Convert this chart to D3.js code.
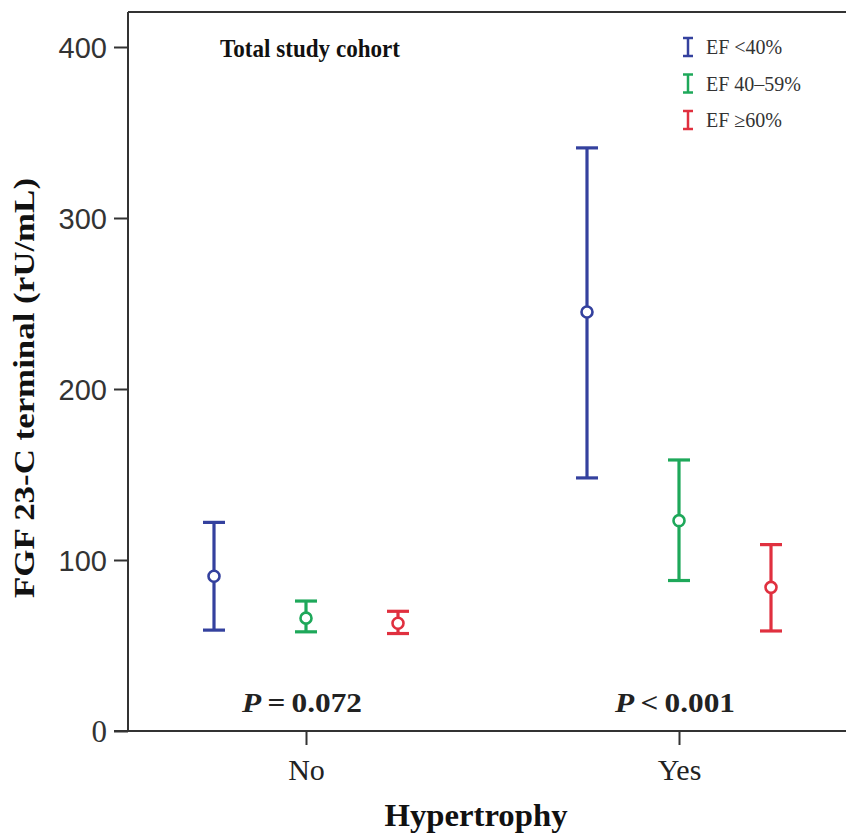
<!DOCTYPE html>
<html><head><meta charset="utf-8">
<script src="https://cdn.jsdelivr.net/npm/d3@7"></script>
<style>body{margin:0;background:#fff}</style>
</head><body><svg id="c" width="846" height="834"></svg>
<script>
const groups = ["No", "Yes"];
const series = ["EF <40%", "EF 40\u201359%", "EF \u226560%"];
const colors = ["#34419e", "#1ea85a", "#e0303f"];
const means = [[90.5, 66, 63], [245, 123, 84]];
const lower = [[59, 58, 57], [148, 88, 58.5]];
const upper = [[122, 76, 70], [341, 158.5, 109]];
const pLabels = [["=", "0.072"], ["<", "0.001"]];
const yTicks = [0, 100, 200, 300, 400];

const serif = "Liberation Serif, Times New Roman, serif";
const sans = "Liberation Sans, Arial, sans-serif";
const svg = d3.select("#c");
const L = 128, T = 12, R = 846, B = 731;
const y = d3.scaleLinear().domain([0, 400]).range([B, 47]);
const x = d3.scalePoint().domain(groups).range([306, 679]);
const xs = d3.scaleBand().domain(series).range([-138, 138]).paddingInner(0);

// frame
svg.append("line").attr("x1", L).attr("x2", R).attr("y1", T).attr("y2", T).attr("stroke", "#333").attr("stroke-width", 2);

const yAxis = svg.append("g").attr("transform", `translate(${L},0)`)
  .call(d3.axisLeft(y).tickValues(yTicks).tickSize(14).tickPadding(7));
yAxis.select(".domain").attr("stroke", "#333").attr("stroke-width", 2).attr("d", `M0,${T}V${B}`);
yAxis.selectAll(".tick line").attr("stroke", "#333").attr("stroke-width", 2);
yAxis.selectAll(".tick text").attr("font-family", sans).attr("font-size", 29).attr("fill", "#333").attr("dy", "0.35em");
yAxis.selectAll(".tick text").filter(d => d === 0).attr("font-family", serif).attr("font-size", 31);

const xAxis = svg.append("g").attr("transform", `translate(0,${B})`)
  .call(d3.axisBottom(x).tickSize(14).tickPadding(0));
xAxis.select(".domain").attr("stroke", "#333").attr("stroke-width", 2).attr("d", `M${L - 14},0H${R}`);
xAxis.selectAll(".tick line").attr("stroke", "#333").attr("stroke-width", 2);
xAxis.selectAll(".tick text").attr("font-family", serif).attr("font-size", 30).attr("fill", "#222")
  .attr("dy", null).attr("y", 49);

// error bars
groups.forEach((g, gi) => {
  series.forEach((s, si) => {
    const cx = x(g) + xs(s) + xs.bandwidth() / 2;
    const c = colors[si];
    const gg = svg.append("g").attr("stroke", c).attr("stroke-width", 3.2).attr("fill", "none");
    gg.append("line").attr("x1", cx).attr("x2", cx).attr("y1", y(lower[gi][si])).attr("y2", y(upper[gi][si]));
    gg.append("line").attr("x1", cx - 11).attr("x2", cx + 11).attr("y1", y(lower[gi][si])).attr("y2", y(lower[gi][si]));
    gg.append("line").attr("x1", cx - 11).attr("x2", cx + 11).attr("y1", y(upper[gi][si])).attr("y2", y(upper[gi][si]));
    gg.append("circle").attr("cx", cx).attr("cy", y(means[gi][si])).attr("r", 5.5).attr("fill", "#fff").attr("stroke-width", 2.6);
  });
  const t = svg.append("text").attr("x", x(g) - 4).attr("y", 712).attr("text-anchor", "middle")
    .attr("font-family", serif).attr("font-weight", "bold").attr("font-size", 28).attr("fill", "#222")
    .attr("textLength", 120).attr("lengthAdjust", "spacingAndGlyphs");
  t.append("tspan").attr("font-style", "italic").text("P");
  t.append("tspan").text("\u2009" + pLabels[gi][0] + "\u2009" + pLabels[gi][1]);
});

// title
svg.append("text").attr("x", 220).attr("y", 57)
  .attr("font-family", serif).attr("font-weight", "bold").attr("font-size", 26).attr("fill", "#111")
  .attr("textLength", 180).attr("lengthAdjust", "spacingAndGlyphs")
  .text("Total study cohort");

// y label
svg.append("text").attr("transform", "translate(34,388) rotate(-90)").attr("text-anchor", "middle")
  .attr("font-family", serif).attr("font-weight", "bold").attr("font-size", 30).attr("fill", "#111")
  .attr("textLength", 420).attr("lengthAdjust", "spacingAndGlyphs")
  .text("FGF 23-C terminal (rU/mL)");

// x label
svg.append("text").attr("x", 476).attr("y", 826).attr("text-anchor", "middle")
  .attr("font-family", serif).attr("font-weight", "bold").attr("font-size", 31).attr("fill", "#111")
  .attr("textLength", 183).attr("lengthAdjust", "spacingAndGlyphs")
  .text("Hypertrophy");

// legend
const leg = svg.append("g");
series.forEach((s, i) => {
  const ly = 47 + i * 36.5;
  const c = colors[i];
  const lg = leg.append("g").attr("stroke", c).attr("stroke-width", 2.5);
  lg.append("line").attr("x1", 688).attr("x2", 688).attr("y1", ly - 9).attr("y2", ly + 9);
  lg.append("line").attr("x1", 683).attr("x2", 693).attr("y1", ly - 9).attr("y2", ly - 9);
  lg.append("line").attr("x1", 683).attr("x2", 693).attr("y1", ly + 9).attr("y2", ly + 9);
  leg.append("text").attr("x", 706).attr("y", ly + 7)
    .attr("font-family", serif).attr("font-size", 20).attr("fill", "#333").text(s);
});
</script></body></html>
